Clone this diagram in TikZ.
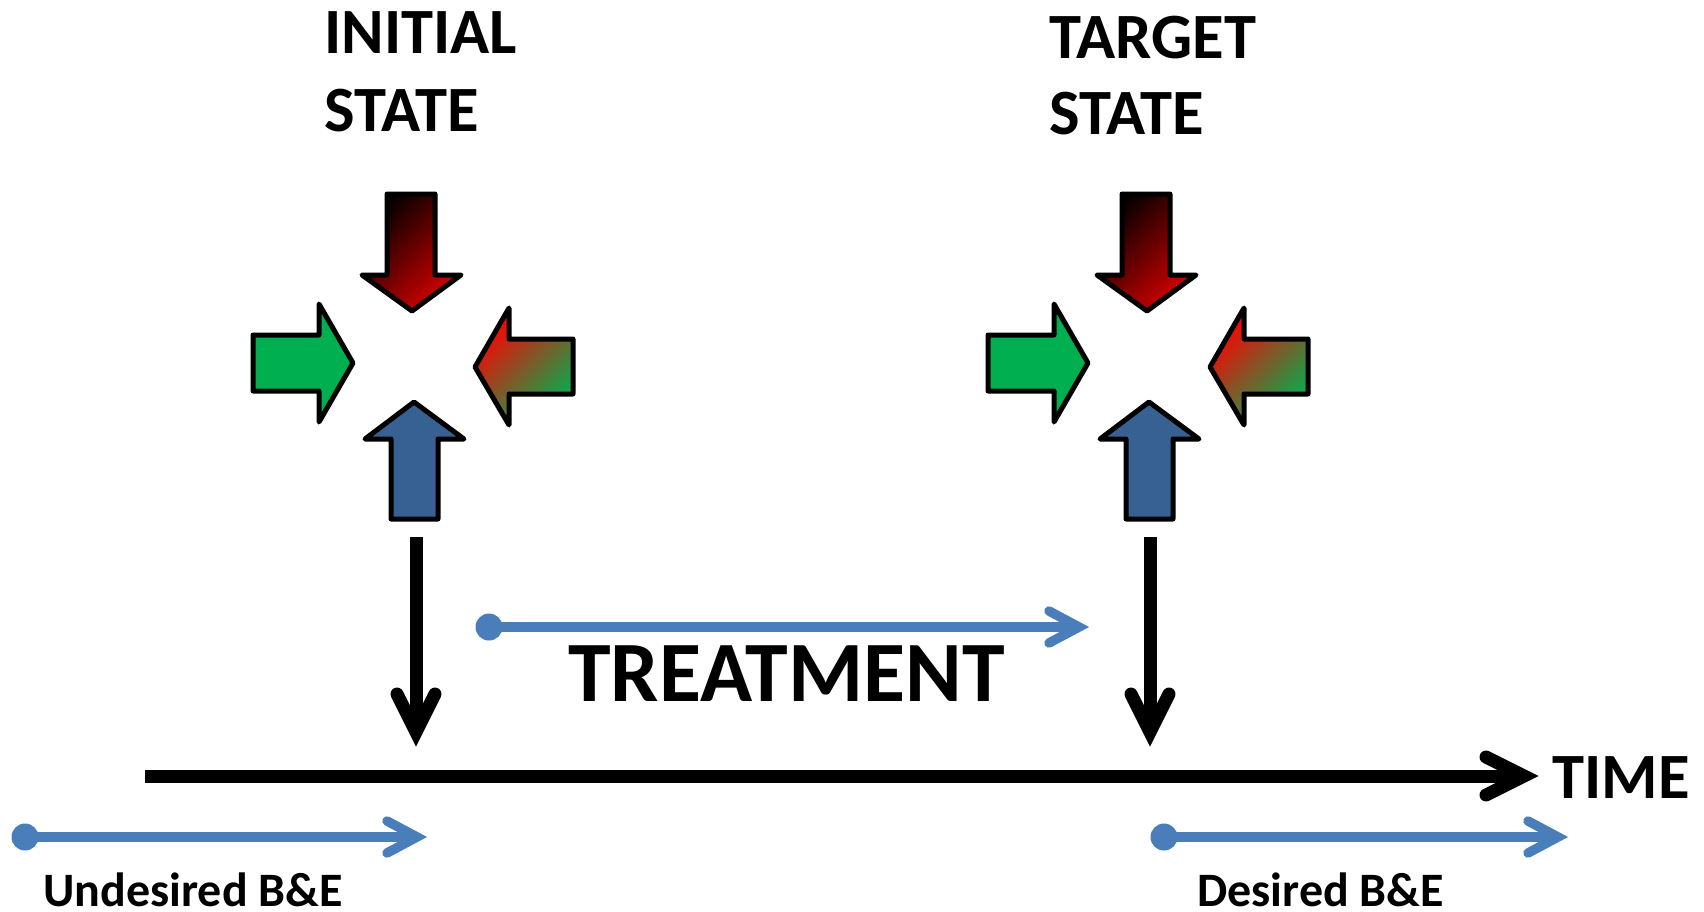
\documentclass[tikz,border=0pt]{standalone}
\usepackage{fontspec}
\setmainfont{Carlito}
\usetikzlibrary{calc}
\definecolor{fgreen}{RGB}{0,176,80}
\definecolor{fred}{RGB}{255,0,0}
\definecolor{dred}{RGB}{215,0,0}
\definecolor{fblue}{RGB}{56,97,147}
\definecolor{lblue}{RGB}{74,126,187}
\tikzset{
  force/.style={draw=black, line width=2.5pt, line join=round},
  axisline/.style={draw=black, line width=6.5pt, line cap=butt},
  barbhead/.style={draw=black, line width=6.5pt, line cap=round, line join=miter},
  bluelink/.style={draw=lblue, line width=4.75pt},
  bluehead/.style={draw=lblue, line width=4.75pt, line cap=round, line join=miter},
  hdr/.style={font=\fontsize{32.3}{32.3}\selectfont\bfseries, anchor=base west, inner sep=0pt},
  bigtxt/.style={font=\fontsize{43}{43}\selectfont\bfseries, anchor=base west, inner sep=0pt},
  smalltxt/.style={font=\fontsize{24}{24}\selectfont\bfseries, anchor=base west, inner sep=0pt}
}
\begin{document}
\begin{tikzpicture}[x=0.5pt, y=-0.5pt]
\useasboundingbox (0,0) rectangle (1704,911);

% headings
\node[hdr] (init1) at (324,53) {INITIAL};
\node[hdr] (init2) at (324,131) {STATE};
\node[hdr] (targ1) at (1049,58) {TARGET};
\node[hdr] (targ2) at (1049,134) {STATE};

% the four converging forces, at the initial and at the target state
\foreach \dx in {0,735} {
\begin{scope}[shift={(\dx,0)}]
  \shadedraw[force, top color=black, bottom color=dred, shading angle=45]
    (387,194) -- (435,194) -- (435,275) -- (461,275) -- (412,311)
    -- (362,275) -- (387,275) -- cycle;
  \filldraw[force, fill=fgreen]
    (253,335) -- (319,335) -- (319,304) -- (353,363) -- (319,422)
    -- (319,391) -- (253,391) -- cycle;
  \shadedraw[force, top color=fred, bottom color=fgreen, shading angle=45]
    (573,339) -- (509,339) -- (509,308) -- (475,367) -- (509,425)
    -- (509,394) -- (573,394) -- cycle;
  \filldraw[force, fill=fblue]
    (391,519) -- (438,519) -- (438,439) -- (464,439) -- (414,402)
    -- (365,439) -- (391,439) -- cycle;
\end{scope}
}

% state markers down onto the time axis
\coordinate (s1top) at (416,537);
\coordinate (s1tip) at (416,732);
\coordinate (s2top) at (1150,537);
\coordinate (s2tip) at (1150,732);
\draw[axisline] (s1top) -- (s1tip);
\draw[barbhead] ($(s1tip)+(-19,-38)$) -- (s1tip) -- ($(s1tip)+(19,-38)$);
\draw[axisline] (s2top) -- (s2tip);
\draw[barbhead] ($(s2tip)+(-19,-38)$) -- (s2tip) -- ($(s2tip)+(19,-38)$);

% time axis
\coordinate (t0) at (145,776);
\coordinate (t1) at (1524,776);
\draw[axisline] (t0) -- (t1);
\draw[barbhead] ($(t1)+(-38,-19)$) -- (t1) -- ($(t1)+(-38,19)$);
\node[hdr] (time) at (1552,798) {TIME};

% treatment
\coordinate (tr0) at (489,627);
\coordinate (tr1) at (1079,627);
\fill[lblue] (tr0) circle[radius=13.5];
\draw[bluelink] (tr0) -- (tr1);
\draw[bluehead] ($(tr1)+(-30,-16)$) -- (tr1) -- ($(tr1)+(-30,16)$);
\node[bigtxt] (treat) at (568,701) {TREATMENT};

% undesired behaviour and environment
\coordinate (u0) at (25,837);
\coordinate (u1) at (417,837);
\fill[lblue] (u0) circle[radius=13.5];
\draw[bluelink] (u0) -- (u1);
\draw[bluehead] ($(u1)+(-30,-16)$) -- (u1) -- ($(u1)+(-30,16)$);
\node[smalltxt] (undes) at (43,906) {Undesired B\&E};

% desired behaviour and environment
\coordinate (d0) at (1164,837);
\coordinate (d1) at (1558,837);
\fill[lblue] (d0) circle[radius=13.5];
\draw[bluelink] (d0) -- (d1);
\draw[bluehead] ($(d1)+(-30,-16)$) -- (d1) -- ($(d1)+(-30,16)$);
\node[smalltxt] (des) at (1197,906) {Desired B\&E};
\end{tikzpicture}
\end{document}
